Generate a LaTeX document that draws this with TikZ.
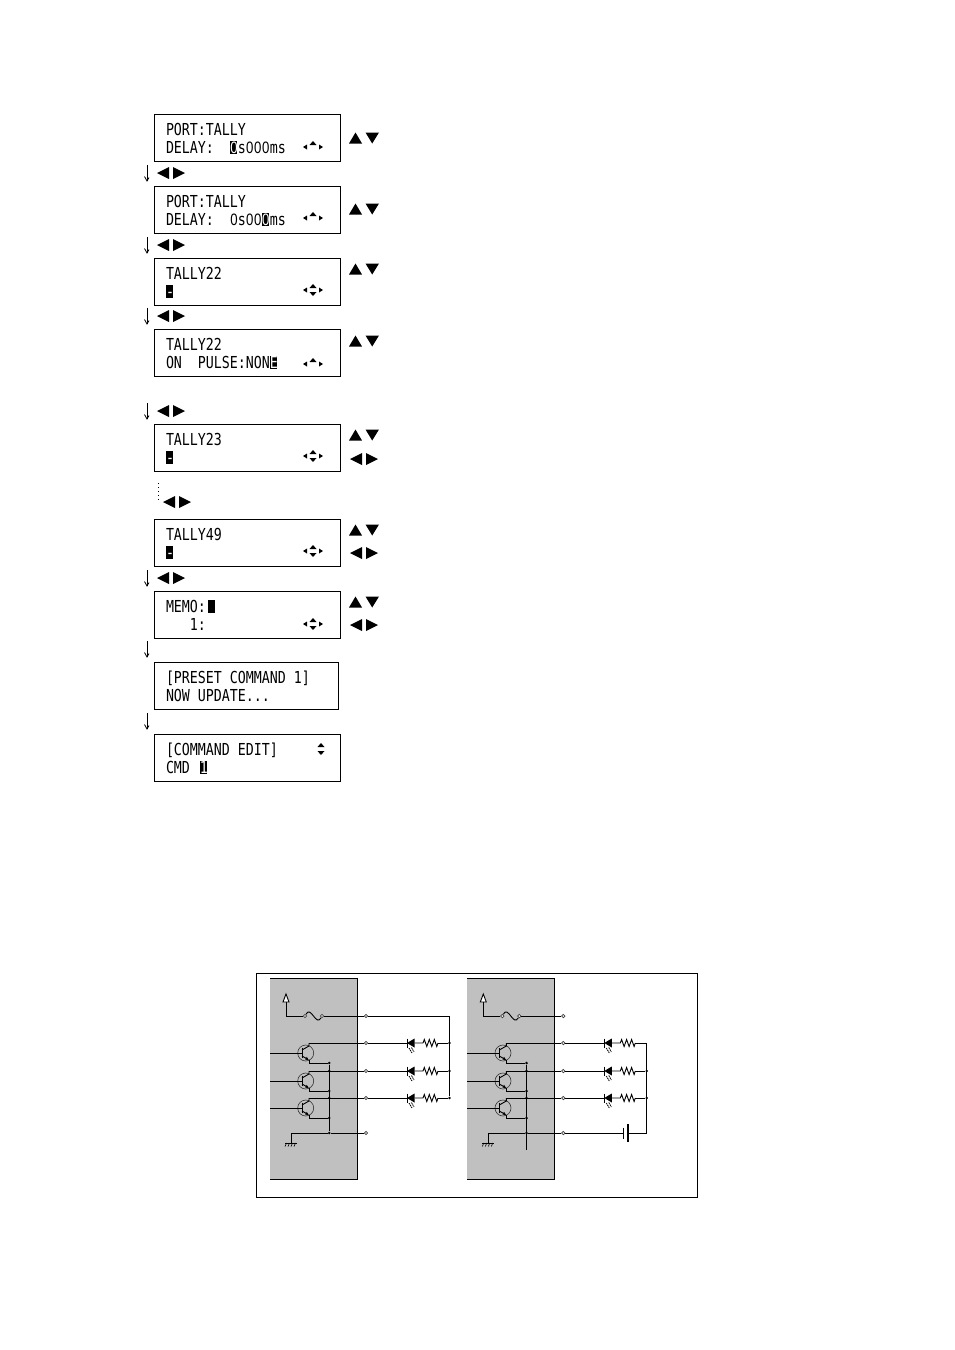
\documentclass[tikz,border=0pt]{standalone}
\usepackage{fontspec}
\usepackage{xcolor}
\usetikzlibrary{arrows.meta, calc}
\newfontfamily\lcdfont[FakeStretch=0.805]{DejaVu Sans Mono}
\newfontfamily\zerofont[FakeStretch=0.8]{Liberation Sans}
\definecolor{panelgray}{HTML}{C0C0C0}
\newcommand{\zr}{\makebox[7.96pt]{\zerofont 0}}
\newcommand{\curs}[1]{\rlap{\raisebox{-0.5pt}{\rule{7pt}{13pt}}}\textcolor{white}{#1}}
% screen: [width]{name}{top}{first line}{second line}
\newcommand{\lcdscreen}[5][186]{
  \node[lcdbox, minimum width=#1pt] (#2) at ($(154,#3)+(#1/2,23.8)$) {};
  \node[lcdtext] (#2-a) at (166,#3+21.3) {#4};
  \node[lcdtext] (#2-b) at (166,#3+39.3) {#5};
}
\tikzset{
  lcdbox/.style={draw, line width=1pt, minimum height=47.6pt, inner sep=0pt, outer sep=0pt},
  lcdtext/.style={anchor=base west, inner sep=0pt, outer sep=0pt, font=\lcdfont\fontsize{16.5}{18}\selectfont},
  wire/.style={line width=0.9pt},
  terminal/.style={draw=black!75, fill=white, circle, line width=0.7pt, minimum size=3.4pt, inner sep=0pt},
  dot/.style={fill=black, circle, minimum size=2.8pt, inner sep=0pt},
  dots/.style={line width=0.9pt, dash pattern=on 1pt off 3pt},
  keysud/.pic={
    \fill (-15,5.5) -- (-8.5,-5.5) -- (-2,5.5) -- cycle;
    \fill (1.5,-5.5) -- (15,-5.5) -- (8.2,5.5) -- cycle;
  },
  keyslr/.pic={
    \fill (-2,-6) -- (-2,6) -- (-14,0) -- cycle;
    \fill (2,-6) -- (2,6) -- (14,0) -- cycle;
  },
  downarrow/.pic={
    \draw[line width=1pt] (0,-8) -- (0,8);
    \draw[line width=0.8pt] (-2.5,3.5) -- (0,8) -- (2,4.5);
  },
  smalllr/.pic={
    \fill (-6,-2.5) -- (-6,2.5) -- (-10,0) -- cycle;
    \fill (6,-2.5) -- (6,2.5) -- (10,0) -- cycle;
  },
  smallup/.pic={\fill (-3.5,-2) -- (3.5,-2) -- (0,-6) -- cycle;},
  smalldown/.pic={\fill (-3.5,2) -- (3.5,2) -- (0,6) -- cycle;},
  transistor/.pic={
    \draw[line width=0.6pt, black!80] (0,0) circle (8);
    \draw[wire] (-3.7,-5) -- (-3.7,5);
    \draw[wire] (-3.7,-3) -- (3.3,-7) -- (3.3,-10);
    \draw[wire, -{Latex[length=3.5pt,width=3.5pt]}] (-3.7,3) -- (3.3,7);
    \draw[wire] (3.3,7) -- (3.3,10);
    \coordinate (-b) at (-3.7,0);
    \coordinate (-c) at (3.3,-10);
    \coordinate (-e) at (3.3,10);
  },
  ledres/.pic={
    \fill (0,0) -- (7.5,-4.5) -- (7.5,4.5) -- cycle;
    \draw[wire] (0,-4.5) -- (0,4.5);
    \draw[line width=0.8pt, dash pattern=on 1.5pt off 0.7pt] (2,5) -- (5,10);
    \draw[line width=0.8pt, dash pattern=on 1.5pt off 0.7pt] (4.5,4.5) -- (7,9);
    \draw[wire] (7.5,0) -- (16,0) -- ++(1.3,-3.5) -- ++(2.5,7) -- ++(2.5,-7)
      -- ++(2.5,7) -- ++(2.5,-7) -- ++(2.5,7) -- (31,0);
    \coordinate (-k) at (0,0);
    \coordinate (-a) at (31,0);
  },
  earth/.pic={
    \draw[wire] (-6,0) -- (6,0);
    \foreach \h in {-4.5,-1.5,1.5,4.5} \draw[line width=0.6pt] (\h,0) -- (\h-1.5,3.5);
  },
}
\begin{document}
\begin{tikzpicture}[x=1pt, y=-1pt]
  \useasboundingbox (0,0) rectangle (954,1350);

  \lcdscreen{tallydelay}{114}{PORT:TALLY}{DELAY:~~\curs{\zr}s\zr\zr\zr ms}
  \lcdscreen{tallyms}{186}{PORT:TALLY}{DELAY:~~\zr s\zr\zr\curs{\zr}ms}
  \lcdscreen{tallya}{258}{TALLY22}{\curs{-}}
  \lcdscreen{tallyb}{329}{TALLY22}{ON~~PULSE:NON\curs{E}}
  \lcdscreen{tallyc}{424}{TALLY23}{\curs{-}}
  \lcdscreen{tallyd}{519}{TALLY49}{\curs{-}}
  \lcdscreen{memo}{591}{MEMO:\hspace{2pt}\curs{~}}{~~~1:}
  \lcdscreen[184]{preset}{662}{[PRESET COMMAND 1]}{NOW UPDATE...}
  \lcdscreen{cmdedit}{734}{[COMMAND EDIT]}{CMD \hspace{2pt}\curs{1}}

  % keys at the right of the screens
  \foreach \y in {138,209,269,341,435,530,602} \pic at (364,\y) {keysud};
  \foreach \y in {459,553,625} \pic at (364,\y) {keyslr};
  % steps between the screens
  \foreach \y in {173,245,316,411,578,649,721} \pic at (147,\y) {downarrow};
  \foreach \y in {173,245,316,411,578} \pic at (171,\y) {keyslr};
  \pic at (177,502) {keyslr};
  \draw[dots] (158,483) -- (158,500);
  % small arrows in the screens
  \foreach \y in {147,218,364} {
    \pic at (313,\y) {smalllr};
    \pic at (313,\y) {smallup};
  }
  \foreach \y in {290,456,551,624} {
    \pic at (313,\y) {smalllr};
    \pic at (313,\y) {smallup};
    \pic at (313,\y) {smalldown};
  }
  \pic at (321,749) {smallup};
  \pic at (321,749) {smalldown};

  % circuit
  \node[draw, line width=0.9pt, minimum width=441pt, minimum height=224pt, inner sep=0pt] (frame) at (476.5,1085) {};
  \node[dot] (L-b1) at (449.5,1043) {};
  \coordinate (R-b1) at (646.8,1043);
  \foreach \off/\p in {0/L, 197.3/R} {
    \begin{scope}[xshift=\off pt]
      \fill[panelgray] (270,978) rectangle (357,1179);
      \draw[line width=0.4pt] (270,978) -- (357,978);
      \draw[wire] (357,978) -- (357,1179) -- (270,1179);
      \node[terminal] (\p-t0) at (366,1016) {};
      \node[terminal] (\p-fa) at (305,1016) {};
      \node[terminal] (\p-fb) at (322,1016) {};
      \coordinate (\p-vcc) at (286,1002);
      \draw[wire, fill=white] (\p-vcc) -- ++(-3,0) -- ++(3,-8) -- ++(3,8) -- cycle;
      \draw[wire] (\p-vcc) |- (\p-fa);
      \draw[wire] (\p-fa) .. controls (311,1005) and (316,1027) .. (\p-fb);
      \draw[wire] (\p-fb) -- (\p-t0);
      \node[dot] (\p-b2) at (449.5,1071) {};
      \node[dot] (\p-b3) at (449.5,1098) {};
      \foreach \n/\c in {1/1043,2/1071,3/1098} {
        \pic (\p-q\n) at (305.7,\c+10) {transistor};
        \pic (\p-led\n) at (407,\c) {ledres};
        \node[terminal] (\p-t\n) at (366,\c) {};
        \node[dot] (\p-j\n) at (329.3,\c+20) {};
        \coordinate (\p-in\n) at (270,\c+10);
        \draw[wire] (\p-in\n) -- (\p-q\n-b);
        \draw[wire] (\p-q\n-c) -- (\p-t\n);
        \draw[wire] (\p-q\n-e) -- (\p-j\n);
        \draw[wire] (\p-t\n) -- (\p-led\n-k);
        \draw[wire] (\p-led\n-a) -- (\p-b\n);
      }
      \node[dot] (\p-k2) at (329.3,1071) {};
      \node[dot] (\p-k3) at (329.3,1098) {};
      \node[dot] (\p-j4) at (329.3,1133) {};
      \node[terminal] (\p-t4) at (366,1133) {};
      \coordinate (\p-gnd) at (291,1143);
      \draw[wire] (\p-t4) -- (\p-j4) -- (\p-j4 -| \p-gnd) -- (\p-gnd);
      \pic at (\p-gnd) {earth};
    \end{scope}
  }
  % left: common bus goes to the supply terminal
  \coordinate (L-bus0) at (449.5,1016);
  \draw[wire] (L-t0) -- (L-bus0) -- (L-b3);
  \draw[wire] (L-j1) -- (L-j4);
  % right: external battery
  \coordinate (R-end) at (526.6,1150);
  \draw[wire] (R-j1) -- (R-end);
  \coordinate (R-bata) at (623.3,1133);
  \coordinate (R-batb) at (627.7,1133);
  \coordinate (R-bus4) at (646.8,1133);
  \draw[wire] (R-t4) -- (R-bata) ++(0,-5.5) -- ++(0,11);
  \draw[line width=1.8pt] ($(R-batb)+(0,-9)$) -- ($(R-batb)+(0,9)$);
  \draw[wire] (R-batb) -- (R-bus4) -- (R-b1);
\end{tikzpicture}
\end{document}
